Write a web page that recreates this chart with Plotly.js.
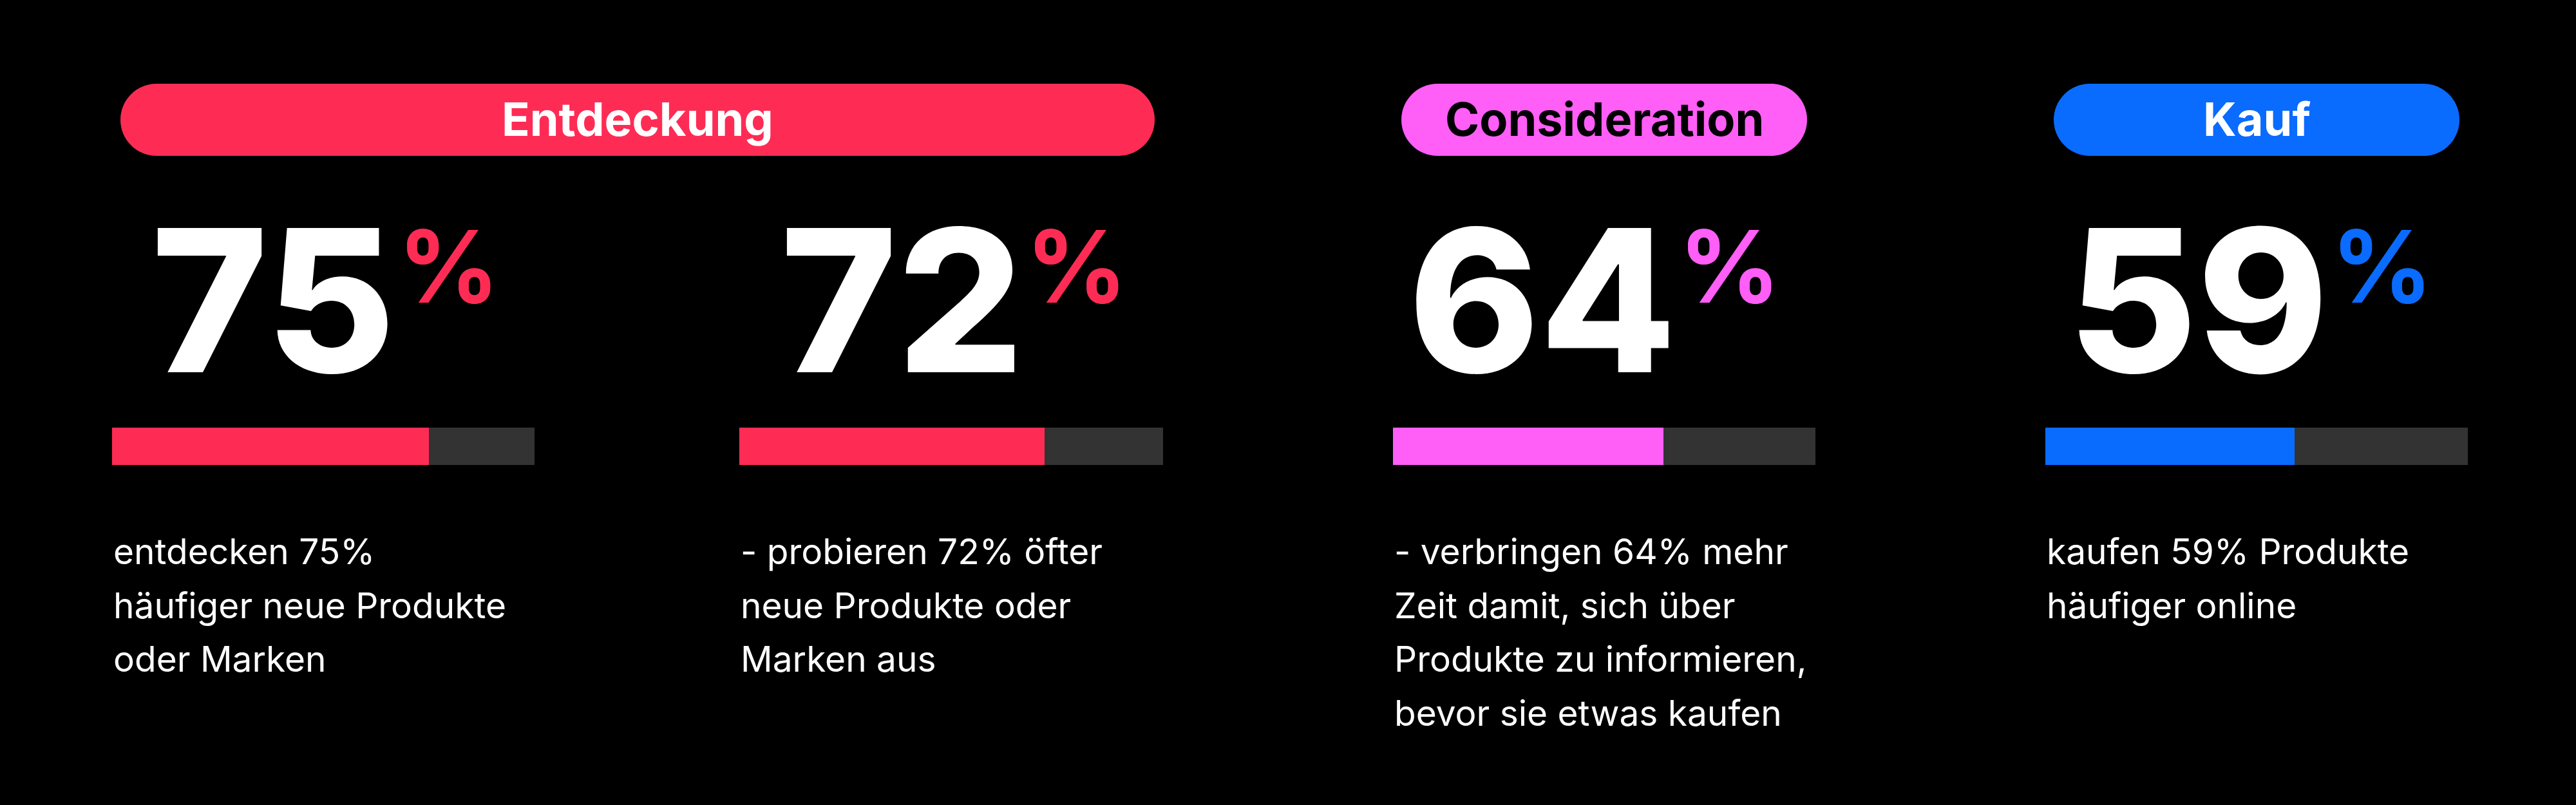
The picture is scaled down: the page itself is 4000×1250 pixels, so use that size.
<!DOCTYPE html>
<html>
<head>
<meta charset="utf-8">
<script src="https://cdn.plot.ly/plotly-3.0.1.min.js"></script>
<style>html,body{margin:0;padding:0;background:#000;}#chart{width:4000px;height:1250px;}</style>
</head>
<body>
<div id="chart"></div>
<script>
// ---- data ----
const stages = ['Entdeckung', 'Consideration', 'Kauf'];
const stageColors = ['#FE2C55', '#FF5EF7', '#0A6BFF'];
const stageTextColors = ['#FFFFFF', '#000000', '#FFFFFF'];
const values = [75, 72, 64, 59];
const stageOfStat = [0, 0, 1, 2];
const descriptions = [
  ['entdecken 75%', 'häufiger neue Produkte', 'oder Marken'],
  ['- probieren 72% öfter', 'neue Produkte oder', 'Marken aus'],
  ['- verbringen 64% mehr', 'Zeit damit, sich über', 'Produkte zu informieren,', 'bevor sie etwas kaufen'],
  ['kaufen 59% Produkte', 'häufiger online']
];

// ---- layout ----
const W = 4000, H = 1250;
const px = v => v / W;
const py = v => 1 - v / H;
const barDomains = [[174, 830], [1148, 1806], [2163, 2819], [3176, 3832]];
const barTop = 664, barBottom = 722;
const remainderColor = '#333333';
const FONT = 'Inter, "Noto Sans", sans-serif';

const traces = [];
const layout = {
  width: W, height: H,
  margin: {l: 0, r: 0, t: 0, b: 0},
  paper_bgcolor: '#000000', plot_bgcolor: '#000000',
  barmode: 'stack', bargap: 0,
  showlegend: false,
  annotations: [], shapes: []
};

values.forEach((v, i) => {
  const ax = i === 0 ? '' : String(i + 1);
  const color = stageColors[stageOfStat[i]];
  traces.push({
    type: 'bar', orientation: 'h', x: [v], y: ['s'],
    xaxis: 'x' + ax, yaxis: 'y' + ax,
    marker: {color: color, line: {width: 0}}, hoverinfo: 'skip'
  });
  traces.push({
    type: 'bar', orientation: 'h', x: [100 - v], y: ['s'],
    xaxis: 'x' + ax, yaxis: 'y' + ax,
    marker: {color: remainderColor, line: {width: 0}}, hoverinfo: 'skip'
  });
  layout['xaxis' + ax] = {
    domain: [px(barDomains[i][0]), px(barDomains[i][1])],
    range: [0, 100], visible: false, fixedrange: true,
    anchor: 'y' + ax
  };
  layout['yaxis' + ax] = {
    domain: [py(barBottom), py(barTop)],
    range: [-0.5, 0.5], visible: false, fixedrange: true,
    anchor: 'x' + ax
  };

  const center = (barDomains[i][0] + barDomains[i][1]) / 2;
  // big number
  layout.annotations.push({
    xref: 'paper', yref: 'paper', x: px(center + 114), y: py(466),
    xanchor: 'right', yanchor: 'middle', showarrow: false,
    text: String(v),
    font: {family: FONT, size: 308, color: '#FFFFFF', weight: 800}
  });
  layout.annotations.push({
    xref: 'paper', yref: 'paper', x: px(center + 114), y: py(414),
    xanchor: 'left', yanchor: 'middle', showarrow: false,
    text: '%',
    font: {family: FONT, size: 155, color: color, weight: 700}
  });
  // description lines
  descriptions[i].forEach((line, k) => {
    layout.annotations.push({
      xref: 'paper', yref: 'paper', x: px(barDomains[i][0]), y: py(856 + k * 83.5),
      xanchor: 'left', yanchor: 'middle', showarrow: false,
      text: line,
      font: {family: FONT, size: 55, color: '#FFFFFF', weight: 400}
    });
  });
});

// stage pills
function pillPath(x0, x1, y0, y1) {
  const r = (y1 - y0) / 2, k = 0.5523;
  const cy = (y0 + y1) / 2;
  const a = x0 + r, b = x1 - r;
  const X = v => px(v).toFixed(5), Y = v => py(v).toFixed(5);
  return 'M' + X(a) + ',' + Y(y0) +
    ' L' + X(b) + ',' + Y(y0) +
    ' C' + X(b + k * r) + ',' + Y(y0) + ' ' + X(x1) + ',' + Y(cy - k * r) + ' ' + X(x1) + ',' + Y(cy) +
    ' C' + X(x1) + ',' + Y(cy + k * r) + ' ' + X(b + k * r) + ',' + Y(y1) + ' ' + X(b) + ',' + Y(y1) +
    ' L' + X(a) + ',' + Y(y1) +
    ' C' + X(a - k * r) + ',' + Y(y1) + ' ' + X(x0) + ',' + Y(cy + k * r) + ' ' + X(x0) + ',' + Y(cy) +
    ' C' + X(x0) + ',' + Y(cy - k * r) + ' ' + X(a - k * r) + ',' + Y(y0) + ' ' + X(a) + ',' + Y(y0) + ' Z';
}
const pillTop = 130, pillBottom = 242, inset = 13;
stages.forEach((s, si) => {
  const idx = stageOfStat.map((st, i) => st === si ? i : -1).filter(i => i >= 0);
  const x0 = barDomains[idx[0]][0] + inset;
  const x1 = barDomains[idx[idx.length - 1]][1] - inset;
  layout.shapes.push({
    type: 'path', xref: 'paper', yref: 'paper',
    path: pillPath(x0, x1, pillTop, pillBottom),
    fillcolor: stageColors[si], line: {width: 0}, layer: 'below'
  });
  layout.annotations.push({
    xref: 'paper', yref: 'paper', x: px((x0 + x1) / 2), y: py(184),
    xanchor: 'center', yanchor: 'middle', showarrow: false,
    text: s,
    font: {family: FONT, size: 72, color: stageTextColors[si], weight: 700}
  });
});

Plotly.newPlot('chart', traces, layout, {staticPlot: true, displayModeBar: false});
</script>
</body>
</html>
